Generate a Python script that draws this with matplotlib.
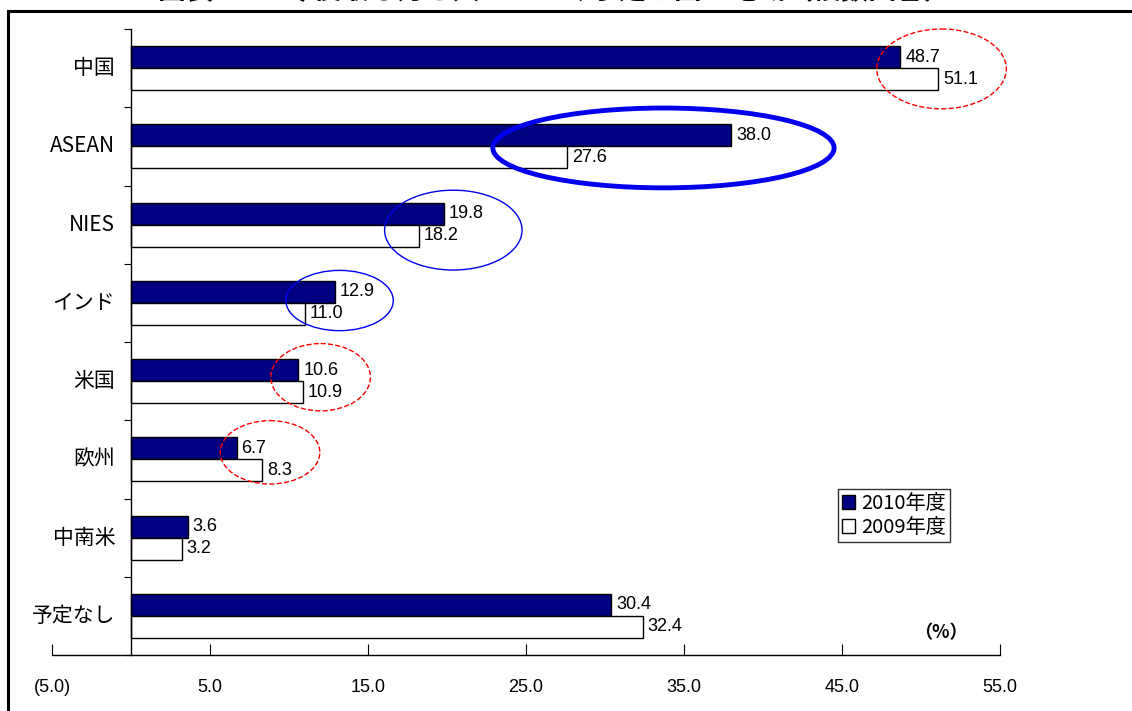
import matplotlib
matplotlib.use("Agg")
import matplotlib.pyplot as plt
from matplotlib.patches import Ellipse, Patch, Rectangle
import numpy as np

plt.rcParams['font.family'] = ['Noto Sans CJK JP', 'DejaVu Sans']

# 国・地域別の回答割合（%）
regions = ["中国", "ASEAN", "NIES", "インド", "米国", "欧州", "中南米", "予定なし"]
fy2010 = [48.7, 38.0, 19.8, 12.9, 10.6, 6.7, 3.6, 30.4]
fy2009 = [51.1, 27.6, 18.2, 11.0, 10.9, 8.3, 3.2, 32.4]
xticks = [-5, 5, 15, 25, 35, 45, 55]
xticklabels = ["(5.0)", "5.0", "15.0", "25.0", "35.0", "45.0", "55.0"]

num_font = ['Liberation Sans Narrow', 'Liberation Sans', 'DejaVu Sans']

fig = plt.figure(figsize=(11.32, 7.11), dpi=100)
ax = fig.add_axes([52/1132, 1-655/711, 948/1132, 626/711])

y = np.arange(len(regions))
h = 0.28
ax.barh(y - h/2, fy2010, height=h, color="#000080", edgecolor="black", linewidth=1, zorder=2)
ax.barh(y + h/2, fy2009, height=h, color="white", edgecolor="black", linewidth=1, zorder=2)

for i in range(len(regions)):
    ax.text(fy2010[i] + 0.3, y[i] - h/2, f"{fy2010[i]:.1f}", va="center", ha="left",
            fontsize=13, family=num_font, zorder=3)
    ax.text(fy2009[i] + 0.3, y[i] + h/2, f"{fy2009[i]:.1f}", va="center", ha="left",
            fontsize=13, family=num_font, zorder=3)

ax.set_xlim(-5, 55)
ax.set_ylim(len(regions) - 0.5, -0.5)

# 軸まわり
for s in ["top", "right"]:
    ax.spines[s].set_visible(False)
ax.spines["left"].set_position(("data", 0))
ax.spines["left"].set_linewidth(1)
ax.spines["bottom"].set_linewidth(1)

ax.set_xticks(xticks)
ax.set_xticklabels(xticklabels, family=num_font, fontsize=13)
ax.tick_params(axis="x", direction="in", length=8, pad=17)

ax.set_yticks(np.arange(len(regions) + 1) - 0.5, minor=False)
ax.set_yticklabels([])
ax.tick_params(axis="y", direction="out", length=5)
for i, name in enumerate(regions):
    ax.text(-1.0, i, name, ha="right", va="center", fontsize=15)

# 注目箇所の囲み
marks = [
    (51.3, 0.01, 8.2, 1.02, "red", "--", 1.0),
    (33.7, 1.02, 21.6, 1.02, "#0000ee", "-", 3.5),
    (20.4, 2.07, 8.7, 1.02, "#0000ee", "-", 1.0),
    (13.2, 2.97, 6.8, 0.77, "#0000ee", "-", 1.0),
    (12.0, 3.95, 6.3, 0.86, "red", "--", 1.0),
    (8.8, 4.91, 6.3, 0.81, "red", "--", 1.0),
]
for cx, cy, w, hh, col, ls, lw in marks:
    ax.add_patch(Ellipse((cx, cy), w, hh, fill=False, edgecolor=col,
                         linestyle=ls, linewidth=lw, zorder=4, clip_on=False))

handles = [Patch(facecolor="#000080", edgecolor="black", label="2010年度"),
           Patch(facecolor="white", edgecolor="black", label="2009年度")]
leg = fig.legend(handles=handles, loc="upper left",
                 bbox_to_anchor=(838/1132, 1-489/711), frameon=True, fancybox=False,
                 fontsize=14.5, handlelength=0.65, handleheight=0.65, handletextpad=0.3,
                 borderpad=0.2, labelspacing=0.15, borderaxespad=0)
leg.get_frame().set_edgecolor("black")
leg.get_frame().set_linewidth(1)

fig.text(941/1132, 1-633/711, "（%）", ha="center", va="center", fontsize=13,
         fontweight="bold")

# 外枠と見出し
fig.patches.append(Rectangle((8/1132, -0.01), 1.2, 1-11/711 + 0.01,
                             transform=fig.transFigure, fill=False,
                             edgecolor="black", linewidth=2.2))
fig.text(555/1132, 1 + 9/711, "図表 11-7 今後最も力を入れていく予定の国・地域（複数回答）",
         ha="center", va="center", fontsize=20, fontweight="bold")

fig.savefig("out.png", dpi=100)
